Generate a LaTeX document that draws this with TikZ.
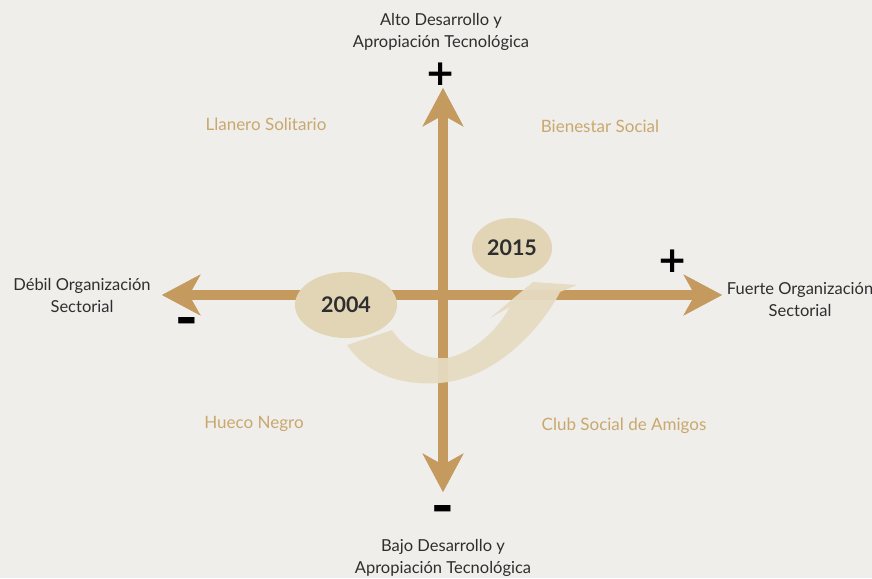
\documentclass[tikz,border=0pt]{standalone}
\usepackage{fontspec}
\setmainfont{Lato}
\newfontfamily\signfont{DejaVu Sans}
\usepackage{tikz}
\usetikzlibrary{positioning,calc,arrows.meta,shapes.geometric}
\definecolor{paper}{HTML}{EFEEEB}
\definecolor{axisbrown}{HTML}{C59A5E}
\definecolor{axisshadow}{HTML}{9C7646}
\definecolor{quadtan}{HTML}{C9A86E}
\definecolor{ribbon}{HTML}{E6DBC2}
\definecolor{yearfill}{HTML}{E2D5B6}
\definecolor{ink}{HTML}{2E2E2E}

\begin{document}
\begin{tikzpicture}[x=1pt, y=-1pt,
        axis/.style={line width=10pt, draw=axisbrown,
            {Stealth[length=38pt,width=40pt,inset=11pt]}-{Stealth[length=38pt,width=40pt,inset=11pt]}},
        axislabel/.style={align=center, font=\fontsize{16.5}{22}\selectfont, text=ink},
        quadrant/.style={font=\fontsize{17}{20}\selectfont, text=quadtan},
        year/.style={ellipse, fill=yearfill, inner sep=0pt, font=\fontsize{21.5}{21.5}\selectfont\bfseries, text=ink},
        sign/.style={inner sep=0pt, font=\signfont\fontsize{36}{36}\selectfont\bfseries, text=black}
    ]
        \fill[paper] (0,0) rectangle (872,578);
        \useasboundingbox (0,0) rectangle (872,578);

        % Axes
        \coordinate (north) at (443,88);
        \coordinate (south) at (443,492);
        \coordinate (west) at (162,295);
        \coordinate (east) at (722,295);

        \draw[axis, draw=axisshadow, opacity=.55, shift={(1.5,1.5)}] (west) -- (east);
        \draw[axis, draw=axisshadow, opacity=.55, shift={(1.5,1.5)}] (north) -- (south);
        \draw[axis] (west) -- (east);
        \draw[axis] (north) -- (south);

        % Signs
        \node[sign] (plusN) at (441,74) {+};
        \node[sign] (minusS) at (443,514) {\scalebox{1.15}[1.4]{–}};
        \node[sign] (plusE) at (673,261) {+};
        \node[sign] (minusW) at (187,326) {\scalebox{1.15}[1.4]{–}};

        % Axis labels
        \node[axislabel] (alto) at (441,32) {Alto Desarrollo y\\Apropiación Tecnológica};
        \node[axislabel] (bajo) at (443,558) {Bajo Desarrollo y\\Apropiación Tecnológica};
        \node[axislabel] (debil) at (82,295) {Débil Organización\\Sectorial};
        \node[axislabel] (fuerte) at (800,300) {Fuerte Organización\\Sectorial};

        % Quadrants
        \node[quadrant] (llanero) at (266,124) {Llanero Solitario};
        \node[quadrant] (bienestar) at (600,126) {Bienestar Social};
        \node[quadrant] (hueco) at (254,424) {Hueco Negro};
        \node[quadrant] (club) at (624,426) {Club Social de Amigos};

        % Years and trajectory
        \node[year, minimum width=102pt, minimum height=66pt] (y2004) at (346,305) {2004};
        \node[year, minimum width=80pt, minimum height=60pt] (y2015) at (512,248) {2015};

        \fill[ribbon, fill opacity=.93] (347,345) -- (392,330)
            .. controls (405,350) and (425,360) .. (447,358)
            .. controls (475,352) and (497,330) .. (510,307)
            -- (490,318) -- (533,282) -- (577,285) -- (560,292)
            .. controls (545,322) and (500,378) .. (440,383)
            .. controls (398,386) and (365,372) .. (347,345) -- cycle;
    \end{tikzpicture}
\end{document}
